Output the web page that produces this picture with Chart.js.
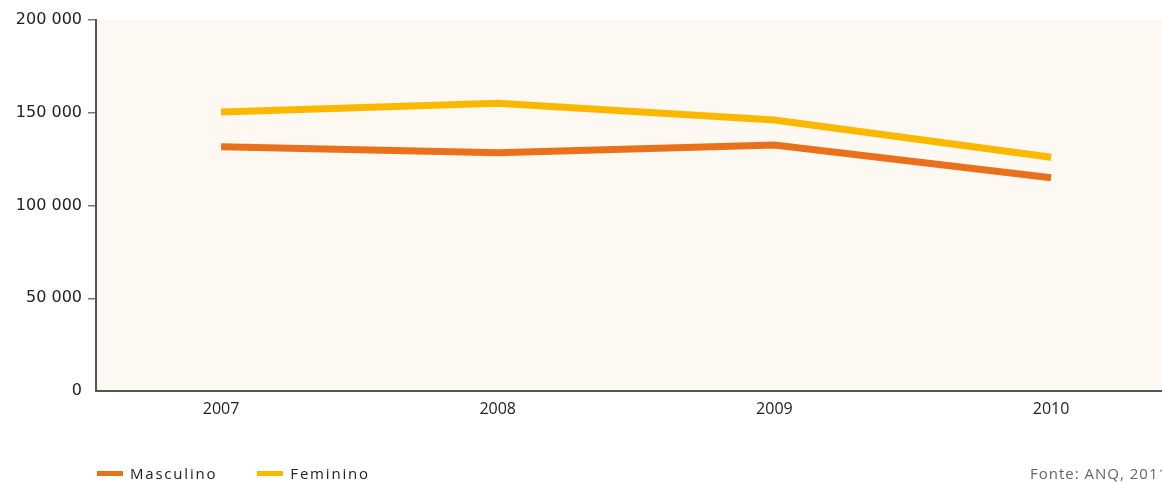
<!DOCTYPE html>
<html>
<head>
<meta charset="utf-8">
<script src="https://cdn.jsdelivr.net/npm/chart.js@4"></script>
<style>
    html, body { margin: 0; padding: 0; background: #fff; overflow: hidden; }
    .wrap { position: relative; width: 1162px; height: 483px; overflow: hidden; }
    #chart { position: absolute; left: 0; top: 0; }
    .legend { position: absolute; left: 97px; top: 463px; font: 15px "Open Sans", sans-serif; color: #222; letter-spacing: 1.8px; display: flex; }
    .legend .item { display: flex; align-items: center; margin-right: 40px; }
    .legend .swatch { width: 26px; height: 5px; margin-right: 7px; }
    .source { position: absolute; left: 1030px; top: 463px; font: 15px "Open Sans", sans-serif; color: #666; letter-spacing: 1px; white-space: nowrap; }
</style>
</head>
<body>
<div class="wrap">
    <canvas id="chart" width="1162" height="483"></canvas>
    <div class="legend" id="legend"></div>
    <div class="source">Fonte: ANQ, 2011</div>
</div>
<script>
const years = [2007, 2008, 2009, 2010];
const masculino = [131700, 128500, 132600, 115000];
const feminino = [150400, 155100, 146100, 126000];
const yTicks = [0, 50000, 100000, 150000, 200000];

const colors = { masculino: "#EA711B", feminino: "#FBB800" };

// plot area background
const plotBg = {
    id: "plotBg",
    beforeDraw(chart) {
        const { ctx, chartArea: a } = chart;
        ctx.save();
        ctx.fillStyle = "#FDF8F2";
        ctx.fillRect(a.left, a.top, a.right - a.left, a.bottom - a.top);
        ctx.restore();
    },
};

const fmt = (v) => String(v).replace(/\B(?=(\d{3})+(?!\d))/g, " ");

const chart = new Chart(document.getElementById("chart"), {
    type: "line",
    data: {
        datasets: [
            {
                label: "Masculino",
                data: years.map((y, i) => ({ x: y, y: masculino[i] })),
                borderColor: colors.masculino,
                backgroundColor: colors.masculino,
                borderWidth: 7,
                pointRadius: 0,
                tension: 0,
            },
            {
                label: "Feminino",
                data: years.map((y, i) => ({ x: y, y: feminino[i] })),
                borderColor: colors.feminino,
                backgroundColor: colors.feminino,
                borderWidth: 7,
                pointRadius: 0,
                tension: 0,
            },
        ],
    },
    options: {
        responsive: false,
        animation: false,
        layout: { padding: { top: 20, right: 0, bottom: 0, left: 0 } },
        plugins: {
            legend: { display: false },
            tooltip: { enabled: false },
        },
        scales: {
            x: {
                type: "linear",
                min: 2006.548,
                max: 2010.401,
                afterBuildTicks: (scale) => { scale.ticks = years.map((v) => ({ value: v })); },
                afterFit: (scale) => { scale.height = 92; },
                grid: { display: false, drawTicks: false },
                border: { display: true, color: "#555", width: 2 },
                ticks: {
                    padding: 9,
                    color: "#222",
                    font: { family: "'Open Sans'", size: 16 },
                    callback: (v) => String(v),
                },
            },
            y: {
                min: 0,
                max: 200000,
                afterBuildTicks: (scale) => { scale.ticks = yTicks.map((v) => ({ value: v })); },
                afterFit: (scale) => { scale.width = 96; },
                grid: {
                    drawOnChartArea: false,
                    drawTicks: true,
                    tickLength: 8,
                    lineWidth: 1.5,
                    color: (ctx) => (ctx.tick && ctx.tick.value === 0 ? "rgba(0,0,0,0)" : "#777"),
                },
                border: { display: true, color: "#555", width: 2 },
                ticks: {
                    padding: 6,
                    color: "#222",
                    font: { family: "'DejaVu Sans'", size: 16 },
                    callback: (v) => fmt(v),
                },
            },
        },
    },
    plugins: [plotBg],
});

// legend built from the chart's datasets
const legendEl = document.getElementById("legend");
chart.data.datasets.forEach((ds) => {
    const item = document.createElement("div");
    item.className = "item";
    const sw = document.createElement("span");
    sw.className = "swatch";
    sw.style.background = ds.borderColor;
    const txt = document.createElement("span");
    txt.textContent = ds.label;
    item.appendChild(sw);
    item.appendChild(txt);
    legendEl.appendChild(item);
});
</script>
</body>
</html>
